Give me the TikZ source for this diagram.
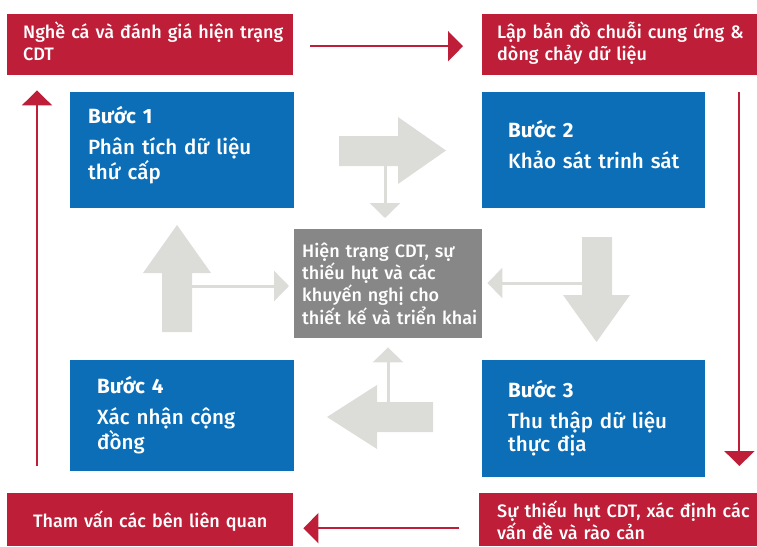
\documentclass[tikz,border=0pt]{standalone}
\usepackage{fontspec}
\setmainfont{Fira Sans}[UprightFont={* Medium},BoldFont={* Bold}]
\usetikzlibrary{arrows.meta}
\definecolor{cdtred}{RGB}{190,30,55}
\definecolor{cdtblue}{RGB}{12,110,182}
\definecolor{cdtgray}{RGB}{135,135,135}
\definecolor{arrowgray}{RGB}{220,221,217}
\newcommand{\tieude}[1]{\textbf{#1}}
\begin{document}
\begin{tikzpicture}[x=1pt,y=-1pt,
    redbox/.style={fill=cdtred,text=white,anchor=north west,align=left,
      minimum height=61pt,inner ysep=0pt,font=\fontsize{18}{22}\selectfont},
    buoc/.style={fill=cdtblue,text=white,anchor=north west,align=left,
      inner ysep=0pt,text height=10pt,font=\fontsize{20.6}{23}\selectfont},
    redarrow/.style={draw=cdtred,line width=2pt,-{Triangle[width=30pt,length=15pt]}},
    grayarrow/.style={draw=arrowgray,line width=3pt,-{Triangle[width=30pt,length=15pt]}}]
        \useasboundingbox (0,0) rectangle (757,546);

        % red boxes
        \node[redbox,text width=254pt,inner xsep=16pt,text height=10pt,text depth=23pt] (nghe) at (7,14) {\mbox{Nghề cá và đánh giá hiện trạng}\\CDT};
        \node[redbox,text width=245pt,inner xsep=15pt,text height=10pt,text depth=23pt] (lapbando) at (482,14) {\mbox{Lập bản đồ chuỗi cung ứng \&}\\dòng chảy dữ liệu};
        \node[redbox,text width=286pt,inner xsep=0pt,align=center,minimum height=53pt,text height=20pt,text depth=5pt] (thamvan) at (7,493) {Tham vấn các bên liên quan};
        \node[redbox,text width=242pt,inner xsep=18pt,minimum height=53pt,text height=10pt,text depth=15pt] (thieuhut) at (479,493) {\mbox{Sự thiếu hụt CDT, xác định các}\\vấn đề và rào cản};

        % blue steps
        \node[buoc,text width=188pt,inner xsep=18pt,minimum height=116pt,text depth=64pt] (buoc1) at (70,92) {\tieude{Bước 1}\\[8.5pt]Phân tích dữ liệu\\thứ cấp};
        \node[buoc,text width=171pt,inner xsep=26pt,minimum height=116pt,text depth=36pt] (buoc2) at (482,92) {\tieude{Bước 2}\\[8.5pt]\mbox{Khảo sát trinh sát}};
        \node[buoc,text width=171pt,inner xsep=26pt,minimum height=117pt,text depth=53pt] (buoc3) at (482,360) {\tieude{Bước 3}\\[8.5pt]Thu thập dữ liệu\\thực địa};
        \node[buoc,text width=170pt,inner xsep=27pt,minimum height=111pt,text depth=55pt] (buoc4) at (70,360) {\tieude{Bước 4}\\[8.5pt]Xác nhận cộng\\đồng};

        \node[fill=cdtgray,text=white,anchor=north west,align=left,text width=172pt,inner xsep=8pt,inner ysep=0pt,
          minimum height=109pt,font=\fontsize{18}{22.2}\selectfont] (hientrang) at (294,229)
          {Hiện trạng CDT, sự\\thiếu hụt và các\\khuyến nghị cho\\\mbox{thiết kế và triển khai}};

        % big gray arrows
        \fill[arrowgray] (339,136)--(398,136)--(398,117)--(446,150.5)--(398,184)--(398,166)--(339,166)--cycle;
        \fill[arrowgray] (582,237)--(612,237)--(612,295)--(630,295)--(596.5,342)--(563,295)--(582,295)--cycle;
        \fill[arrowgray] (433,402)--(377,402)--(377,385)--(327,417)--(377,449)--(377,432)--(433,432)--cycle;
        \fill[arrowgray] (162,332)--(162,273)--(143,273)--(177,225)--(211,273)--(192,273)--(192,332)--cycle;

        \coordinate (a12) at (385,166);
        \coordinate (a23) at (582,283);
        \coordinate (a34) at (388,402);
        \coordinate (a41) at (192,286);
        \draw[grayarrow,shorten >=11pt] (a12)--(a12 |- hientrang.north);
        \draw[grayarrow,shorten >=5pt] (a23)--(a23 -| hientrang.east);
        \draw[grayarrow,shorten >=9pt] (a34)--(a34 |- hientrang.south);
        \draw[grayarrow,shorten >=5pt] (a41)--(a41 -| hientrang.west);

        % red cycle
        \draw[redarrow] ([xshift=17pt,yshift=-1.5pt]nghe.east)--([xshift=-19pt,yshift=-1.5pt]lapbando.west);
        \draw[redarrow] ([xshift=-18pt,yshift=-17pt]lapbando.south east)--([xshift=-18pt,yshift=27pt]thieuhut.north east);
        \draw[redarrow] ([xshift=-20pt,yshift=-8.5pt]thieuhut.west)--([xshift=10pt,yshift=-8.5pt]thamvan.east);
        \draw[redarrow] ([xshift=30pt,yshift=27pt]thamvan.north west)--([xshift=30pt,yshift=-15pt]nghe.south west);
\end{tikzpicture}
\end{document}
